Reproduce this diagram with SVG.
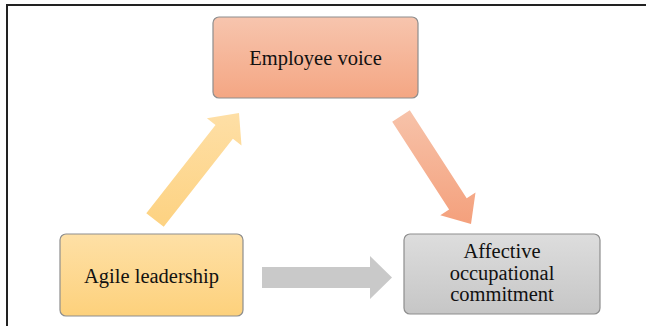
<svg xmlns="http://www.w3.org/2000/svg" width="646" height="326" viewBox="0 0 646 326">
<style>
.box{stroke:#8e8e8e;stroke-width:1.2}
.lbl{font-family:"Liberation Serif","Times New Roman",serif;font-size:20.5px;fill:#111;text-anchor:middle}
.frame{stroke:#222;stroke-width:2;fill:none}
</style>
<defs>
<linearGradient id="gSalmon" x1="0" y1="0" x2="0" y2="1"><stop offset="0" stop-color="#f7c5ae"/><stop offset="1" stop-color="#f4a683"/></linearGradient>
<linearGradient id="gYellow" x1="0" y1="0" x2="0" y2="1"><stop offset="0" stop-color="#fee0a6"/><stop offset="1" stop-color="#fdd17c"/></linearGradient>
<linearGradient id="gGray" x1="0" y1="0" x2="0" y2="1"><stop offset="0" stop-color="#dddddd"/><stop offset="1" stop-color="#c6c6c6"/></linearGradient>
<linearGradient id="aYellow" gradientUnits="userSpaceOnUse" x1="0" y1="113" x2="0" y2="227"><stop offset="0" stop-color="#fedfa6"/><stop offset="1" stop-color="#fdd281"/></linearGradient>
<linearGradient id="aSalmon" gradientUnits="userSpaceOnUse" x1="0" y1="110" x2="0" y2="224"><stop offset="0" stop-color="#f7c3aa"/><stop offset="1" stop-color="#f4a07c"/></linearGradient>
</defs>
<path class="frame" d="M7,326 V5 H646"/>
<g id="connectors">
<polygon fill="url(#aYellow)" points="163.7,226.8 232.9,138.7 241.5,145.5 239,113 206.9,118.3 215.5,125.1 146.3,213.2"/>
<polygon fill="url(#aSalmon)" points="409.8,110.3 466.7,198.2 475.5,192.5 471,224 440.3,215.3 449.1,209.6 392.2,121.7"/>
<polygon fill="#c9c9c9" points="262,267 370,267 370,256 392,277.5 370,299 370,288 262,288"/>
</g>
<g id="employee-voice">
<rect class="box" x="213" y="17" width="205" height="81" rx="6" fill="url(#gSalmon)"/>
<text class="lbl" x="315.5" y="65">Employee voice</text>
</g>
<g id="agile-leadership">
<rect class="box" x="60" y="234" width="183" height="82" rx="6" fill="url(#gYellow)"/>
<text class="lbl" x="151.5" y="283">Agile leadership</text>
</g>
<g id="affective-commitment">
<rect class="box" x="404" y="234" width="196" height="80" rx="6" fill="url(#gGray)"/>
<text class="lbl" x="502" y="258">Affective</text>
<text class="lbl" x="502" y="280">occupational</text>
<text class="lbl" x="502" y="301">commitment</text>
</g>
</svg>
